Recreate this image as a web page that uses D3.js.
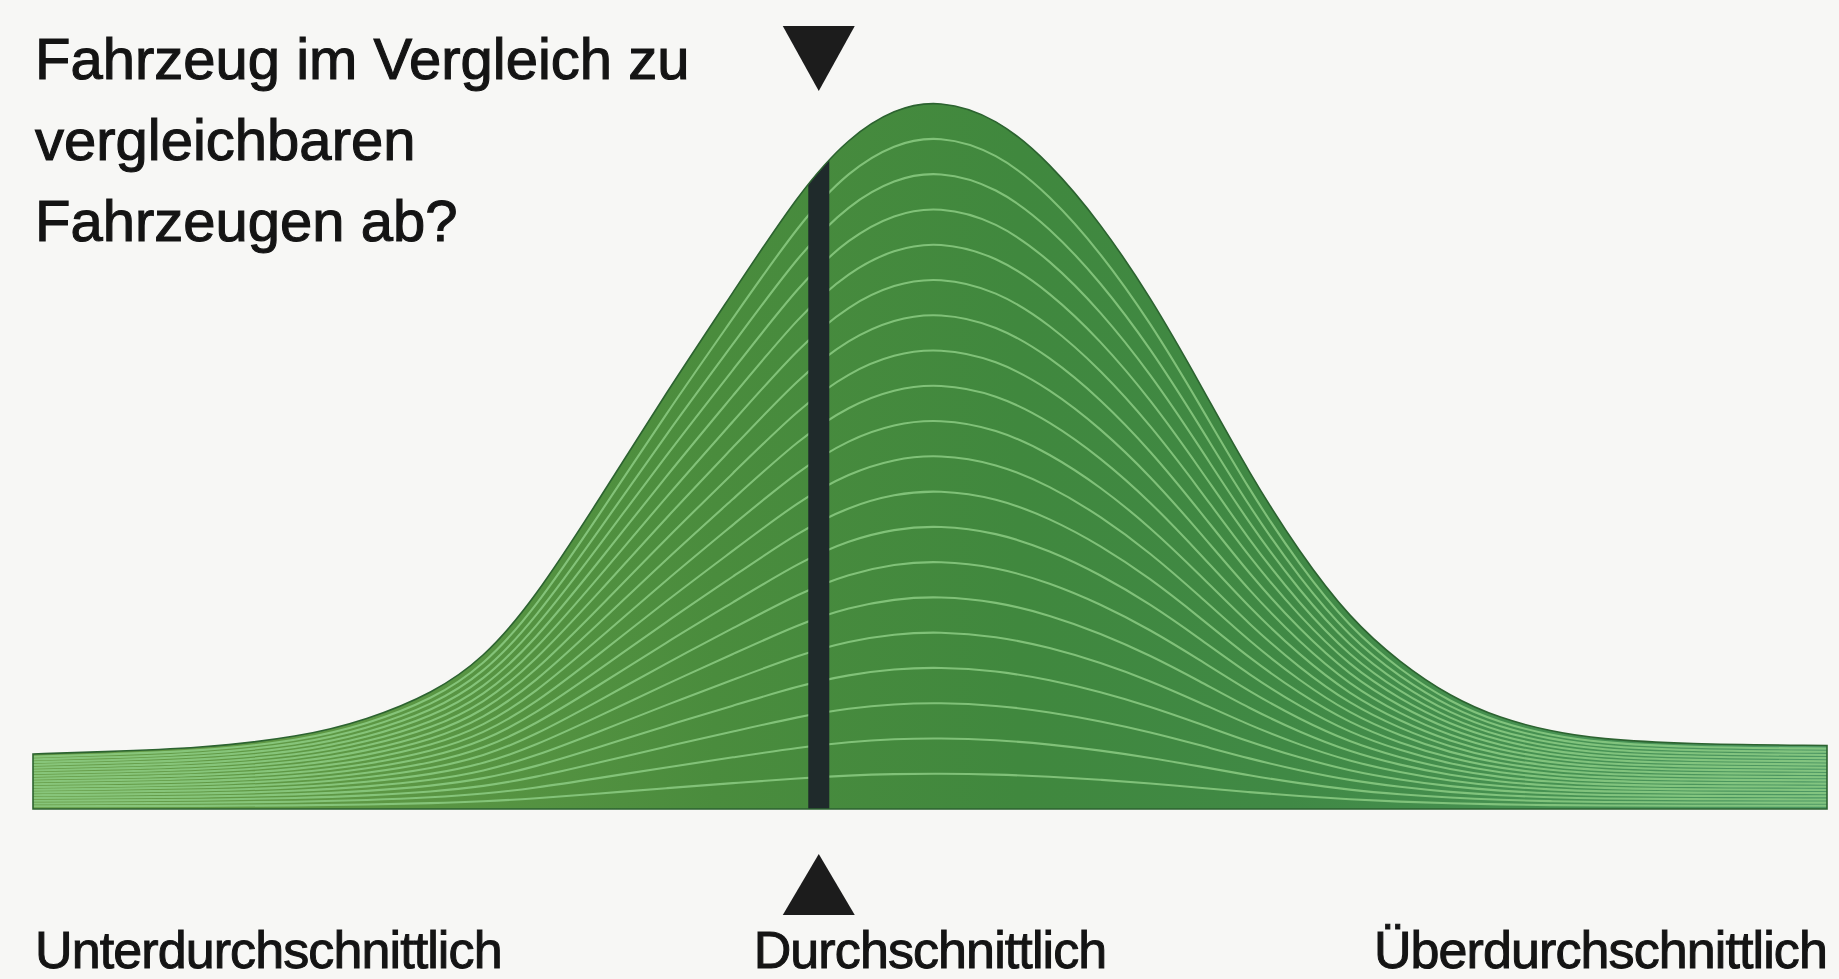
<!DOCTYPE html>
<html>
<head>
<meta charset="utf-8">
<script src="https://cdn.jsdelivr.net/npm/d3@7"></script>
<style>
  html, body { margin: 0; padding: 0; background: #f7f7f5; }
  svg { display: block; }
</style>
</head>
<body>
<svg id="chart" width="1839" height="979"></svg>
<script>
// ---- data ----
// position along the scale (0 = far below average, 100 = far above average)
const positions = [0, 3.7, 9.3, 14.9, 18.6, 22.3, 25.1, 27.9, 31.6, 35.3, 39.0, 42.8, 45.5, 48.0, 50.5, 53.7, 56.7, 59.5, 62.3, 65.0, 67.8, 70.6, 73.4, 76.2, 79.0, 81.8, 84.6, 87.3, 92.0, 100];
// relative frequency (peak = 100)
const heights   = [7.8, 8.1, 8.6, 10.2, 12.6, 16.4, 21.3, 29.5, 44.0, 59.0, 73.1, 87.7, 95.2, 99.2, 100.5, 98.0, 91.5, 83.0, 72.5, 60.5, 47.5, 36.3, 27.0, 20.7, 15.9, 12.8, 11.0, 9.9, 9.2, 9.0];
const layerCount = 20;               // number of stacked bands inside the curve
const markerPosition = 43.8;         // the vehicle's position (black bar)
const titleLines = ["Fahrzeug im Vergleich zu", "vergleichbaren", "Fahrzeugen ab?"];
const axisLabels = ["Unterdurchschnittlich", "Durchschnittlich", "Überdurchschnittlich"];
const axisLabelPositions = [0, 50, 100];

// ---- drawing ----
const svg = d3.select("#chart");

const x = d3.scaleLinear().domain([0, 100]).range([33, 1827]);
const y = d3.scaleLinear().domain([0, 100]).range([809, 103]);

const data = positions.map((p, i) => ({ p, h: heights[i] }));

const defs = svg.append("defs");
const grad = defs.append("linearGradient")
  .attr("id", "greenGrad").attr("gradientUnits", "userSpaceOnUse")
  .attr("x1", x(0)).attr("x2", x(100)).attr("y1", 0).attr("y2", 0);
[[0, "#679c47"], [0.2, "#5c9744"], [0.38, "#4a8c3d"], [0.55, "#40883e"], [0.7, "#408945"], [0.85, "#479253"], [1, "#4e9864"]]
  .forEach(([o, c]) => grad.append("stop").attr("offset", o).attr("stop-color", c));

const curve = d3.curveBasis;
const area = d3.area()
  .x(d => x(d.p)).y0(y(0)).y1(d => y(d.h)).curve(curve);

defs.append("clipPath").attr("id", "curveClip")
  .append("path").attr("d", area(data));

// filled bell area
svg.append("path")
  .attr("d", area(data))
  .attr("fill", "url(#greenGrad)");

// light contour lines (layers)
const g = svg.append("g").attr("clip-path", "url(#curveClip)");
for (let k = 1; k < layerCount; k++) {
  const line = d3.line()
    .x(d => x(d.p)).y(d => y(d.h * k / layerCount)).curve(curve);
  g.append("path")
    .attr("d", line(data))
    .attr("fill", "none")
    .attr("stroke", "#90d087")
    .attr("stroke-opacity", 0.8)
    .attr("stroke-width", 2.1);
}

// marker bar (clipped to the curve)
const bw = 21;
g.append("rect")
  .attr("x", x(markerPosition) - bw / 2)
  .attr("y", y(100) - 10)
  .attr("width", bw)
  .attr("height", y(0) - y(100) + 20)
  .attr("fill", "#1f2a2b");

// outline
svg.append("path")
  .attr("d", area(data))
  .attr("fill", "none")
  .attr("stroke", "#2c6330")
  .attr("stroke-width", 1.6);

// triangles
const cx = x(markerPosition);
const triW = 72, triH = 65;
const downTop = 26, upBase = 915;
const pDown = d3.path();
pDown.moveTo(cx - triW / 2, downTop); pDown.lineTo(cx + triW / 2, downTop); pDown.lineTo(cx, downTop + triH); pDown.closePath();
svg.append("path").attr("d", pDown.toString()).attr("fill", "#1c1c1c");
const pUp = d3.path();
pUp.moveTo(cx - triW / 2, upBase); pUp.lineTo(cx + triW / 2, upBase); pUp.lineTo(cx, upBase - triH + 4); pUp.closePath();
svg.append("path").attr("d", pUp.toString()).attr("fill", "#1c1c1c");

// title
svg.append("g").selectAll("text").data(titleLines).join("text")
  .attr("x", 35)
  .attr("y", (d, i) => 79 + i * 81)
  .attr("font-family", "'Liberation Sans', Arial, Helvetica, sans-serif")
  .attr("font-size", 58)
  .attr("fill", "#141414")
  .attr("stroke", "#141414")
  .attr("stroke-width", 1.1)
  .text(d => d);

// axis labels
const anchors = ["start", "middle", "end"];
svg.append("g").selectAll("text").data(axisLabels).join("text")
  .attr("x", (d, i) => x(axisLabelPositions[i]) + (i === 0 ? 2 : 0))
  .attr("y", 968)
  .attr("text-anchor", (d, i) => anchors[i])
  .attr("font-family", "'Liberation Sans', Arial, Helvetica, sans-serif")
  .attr("font-size", 52)
  .attr("letter-spacing", -0.9)
  .attr("fill", "#141414")
  .attr("stroke", "#141414")
  .attr("stroke-width", 1.0)
  .text(d => d);
</script>
</body>
</html>
